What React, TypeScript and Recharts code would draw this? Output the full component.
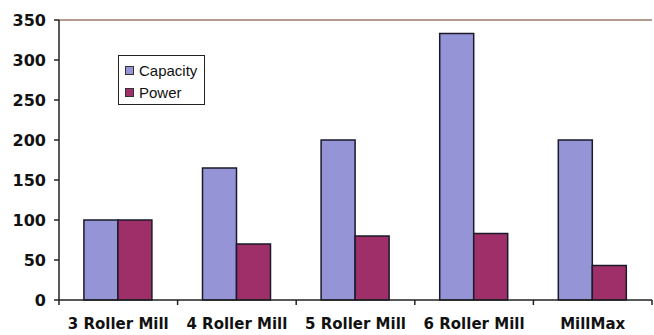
import { BarChart, Bar, XAxis, YAxis, ReferenceLine } from "recharts";

const mills = ["3 Roller Mill", "4 Roller Mill", "5 Roller Mill", "6 Roller Mill", "MillMax"];
const capacity = [100, 165, 200, 333, 200];
const power = [100, 70, 80, 83, 43];
const yTicks = [0, 50, 100, 150, 200, 250, 300, 350];

const CAPACITY_COLOR = "#9494d6";
const POWER_COLOR = "#9e2f69";

const data = mills.map((name, i) => ({ name, capacity: capacity[i], power: power[i] }));

// Category label centred under the group, with tick marks on the group boundaries
function MillTick(props: any) {
  const { x, y, payload, index, width } = props;
  const step = width / mills.length;
  const left = x - step / 2;
  return (
    <g>
      <line x1={left} y1={y - 8} x2={left} y2={y - 3} stroke="#222" strokeWidth={1.5} />
      {index === mills.length - 1 && (
        <line x1={left + step} y1={y - 8} x2={left + step} y2={y - 3} stroke="#222" strokeWidth={1.5} />
      )}
      <text
        x={x}
        y={y + 21}
        textAnchor="middle"
        fontFamily="'DejaVu Sans', Verdana, sans-serif"
        fontWeight="bold"
        fontSize={15}
        fill="#111"
      >
        {payload.value}
      </text>
    </g>
  );
}

function LegendBox() {
  const items = [
    { label: "Capacity", color: CAPACITY_COLOR },
    { label: "Power", color: POWER_COLOR },
  ];
  return (
    <div
      style={{
        position: "absolute",
        left: 118,
        top: 55,
        width: 87,
        height: 50,
        border: "1.5px solid #222",
        background: "#fff",
        boxSizing: "border-box",
        padding: "3px 0 0 6px",
        fontFamily: "'Liberation Sans', Arial, sans-serif",
        fontSize: 15,
        color: "#111",
      }}
    >
      {items.map((it) => (
        <div key={it.label} style={{ display: "flex", alignItems: "center", height: 22 }}>
          <span
            style={{
              width: 7,
              height: 7,
              background: it.color,
              border: "1px solid #333",
              marginRight: 5,
            }}
          />
          {it.label}
        </div>
      ))}
    </div>
  );
}

export default function App() {
  return (
    <div style={{ position: "absolute", left: 0, top: 0, width: 654, height: 335, background: "#fff" }}>
      <BarChart
        width={654}
        height={335}
        data={data}
        margin={{ top: 20, right: 2, left: 0, bottom: 0 }}
        barCategoryGap="21%"
        barGap={0}
      >
        <XAxis
          dataKey="name"
          height={35}
          tickLine={false}
          axisLine={{ stroke: "#222", strokeWidth: 1.5 }}
          tick={<MillTick />}
          interval={0}
        />
        <YAxis
          width={59}
          domain={[0, 350]}
          ticks={yTicks}
          interval={0}
          tickSize={5}
          tickMargin={8}
          axisLine={{ stroke: "#222", strokeWidth: 1.5 }}
          tickLine={{ stroke: "#222", strokeWidth: 1.5 }}
          tick={{
            fontFamily: "'DejaVu Sans', Verdana, sans-serif",
            fontWeight: "bold",
            fontSize: 16,
            fill: "#111",
          }}
        />
        <ReferenceLine y={350} stroke="#9a7a6e" strokeWidth={1.5} />
        <Bar dataKey="capacity" name="Capacity" fill={CAPACITY_COLOR} stroke="#1a1a2a" strokeWidth={1.5} isAnimationActive={false} />
        <Bar dataKey="power" name="Power" fill={POWER_COLOR} stroke="#1a1a2a" strokeWidth={1.5} isAnimationActive={false} />
      </BarChart>
      <LegendBox />
    </div>
  );
}
